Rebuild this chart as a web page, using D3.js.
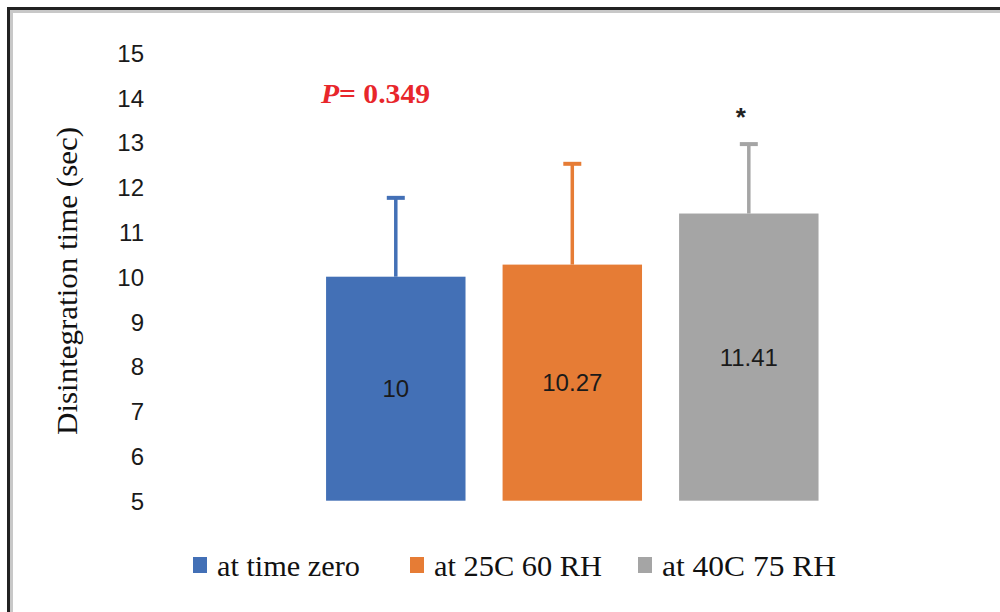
<!DOCTYPE html>
<html>
<head>
<meta charset="utf-8">
<script src="https://cdn.jsdelivr.net/npm/d3@7"></script>
<style>
  body { margin: 0; background: #fff; }
  svg { display: block; }
</style>
</head>
<body>
<div id="chart"></div>
<script>
// Data
const categories = ["at time zero", "at 25C 60 RH", "at 40C 75 RH"];
const values = [10, 10.27, 11.41];
const errors = [1.76, 2.25, 1.55];
const valueLabels = ["10", "10.27", "11.41"];
const yTicks = [5, 6, 7, 8, 9, 10, 11, 12, 13, 14, 15];
const colors = ["#4370b6", "#e67c35", "#a5a5a5"];

const width = 1000, height = 612;

const svg = d3.select("#chart")
    .append("svg")
    .attr("width", width)
    .attr("height", height);

// Frame (only top and left edges are visible)
svg.append("rect").attr("x", 7).attr("y", 7).attr("width", width).attr("height", 3).attr("fill", "#222");
svg.append("rect").attr("x", 7).attr("y", 7).attr("width", 3).attr("height", height).attr("fill", "#222");
svg.append("rect").attr("x", 10).attr("y", 10).attr("width", width).attr("height", 3).attr("fill", "#c8c8c8");
svg.append("rect").attr("x", 10).attr("y", 10).attr("width", 3).attr("height", height).attr("fill", "#c8c8c8");

// Scales
const x = d3.scaleBand()
    .domain(categories)
    .range([289, 855.6])
    .padding(0.21);

const y = d3.scaleLinear()
    .domain([5, 15])
    .range([500.7, 52.7]);

// Y axis: labels only
const yAxis = svg.append("g")
    .attr("transform", "translate(144,0)")
    .call(d3.axisLeft(y).tickValues(yTicks).tickSize(0).tickPadding(0).tickFormat(d3.format("d")));
yAxis.select(".domain").remove();
yAxis.selectAll("text")
    .attr("font-family", "'Liberation Sans', Arial, sans-serif")
    .attr("font-size", 24)
    .attr("fill", "#1a1a1a")
    .attr("dy", "0.36em");

// Y axis title
svg.append("text")
    .attr("transform", "translate(77,281) rotate(-90)")
    .attr("text-anchor", "middle")
    .attr("font-family", "'Liberation Serif', 'Times New Roman', serif")
    .attr("font-size", 30)
    .attr("fill", "#111")
    .attr("textLength", 308)
    .attr("lengthAdjust", "spacingAndGlyphs")
    .text("Disintegration time (sec)");

// Bars
svg.selectAll(".bar")
    .data(categories)
    .enter().append("rect")
    .attr("class", "bar")
    .attr("x", d => x(d))
    .attr("width", x.bandwidth())
    .attr("y", (d, i) => y(values[i]))
    .attr("height", (d, i) => y(5) - y(values[i]))
    .attr("fill", (d, i) => colors[i]);

// Error bars (upper only)
const err = svg.selectAll(".err")
    .data(categories)
    .enter().append("g")
    .attr("class", "err");
err.append("line")
    .attr("x1", d => x(d) + x.bandwidth() / 2)
    .attr("x2", d => x(d) + x.bandwidth() / 2)
    .attr("y1", (d, i) => y(values[i]))
    .attr("y2", (d, i) => y(values[i] + errors[i]))
    .attr("stroke", (d, i) => colors[i])
    .attr("stroke-width", 3.5);
err.append("line")
    .attr("x1", d => x(d) + x.bandwidth() / 2 - 9)
    .attr("x2", d => x(d) + x.bandwidth() / 2 + 9)
    .attr("y1", (d, i) => y(values[i] + errors[i]))
    .attr("y2", (d, i) => y(values[i] + errors[i]))
    .attr("stroke", (d, i) => colors[i])
    .attr("stroke-width", 4);

// Value labels centred in the bars
svg.selectAll(".val")
    .data(categories)
    .enter().append("text")
    .attr("class", "val")
    .attr("x", d => x(d) + x.bandwidth() / 2)
    .attr("y", (d, i) => (y(values[i]) + y(5)) / 2)
    .attr("dy", "0.36em")
    .attr("text-anchor", "middle")
    .attr("font-family", "'Liberation Sans', Arial, sans-serif")
    .attr("font-size", 24)
    .attr("fill", "#1a1a1a")
    .text((d, i) => valueLabels[i]);

// P value annotation
const p = svg.append("text")
    .attr("x", 321)
    .attr("y", 103)
    .attr("font-family", "'Liberation Serif', 'Times New Roman', serif")
    .attr("font-size", 27)
    .attr("font-weight", "bold")
    .attr("fill", "#e8262b")
    .attr("textLength", 109)
    .attr("lengthAdjust", "spacingAndGlyphs");
p.append("tspan").attr("font-style", "italic").text("P");
p.append("tspan").text("= 0.349");

// Significance star over the last bar
svg.append("text")
    .attr("x", x(categories[2]) + x.bandwidth() / 2 - 8)
    .attr("y", 126)
    .attr("text-anchor", "middle")
    .attr("font-family", "'Liberation Sans', Arial, sans-serif")
    .attr("font-size", 26)
    .attr("font-weight", "bold")
    .attr("fill", "#222")
    .text("*");

// Legend
const legendX = [193, 410, 638];
const legendW = [143, 168, 174];
const legend = svg.selectAll(".legend")
    .data(categories)
    .enter().append("g")
    .attr("class", "legend")
    .attr("transform", (d, i) => "translate(" + legendX[i] + ",557)");
legend.append("rect")
    .attr("width", 14)
    .attr("height", 16)
    .attr("fill", (d, i) => colors[i]);
legend.append("text")
    .attr("x", 24)
    .attr("y", 19)
    .attr("font-family", "'Liberation Serif', 'Times New Roman', serif")
    .attr("font-size", 29)
    .attr("fill", "#111")
    .attr("textLength", (d, i) => legendW[i])
    .attr("lengthAdjust", "spacingAndGlyphs")
    .text(d => d);
</script>
</body>
</html>
